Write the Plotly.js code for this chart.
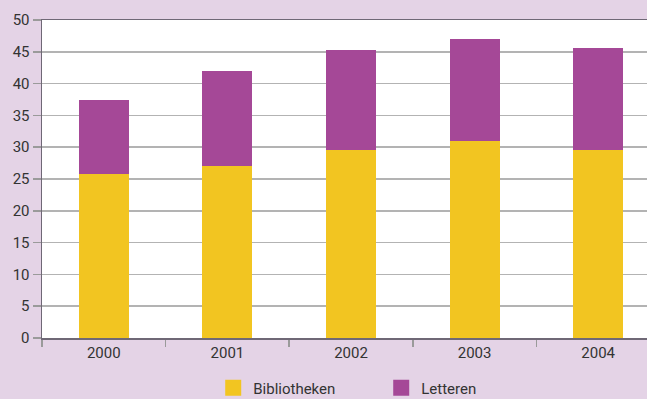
<!DOCTYPE html>
<html>
<head>
<meta charset="utf-8">
<script src="https://cdn.plot.ly/plotly-3.0.1.min.js"></script>
<style>html,body{margin:0;padding:0;background:#e4d3e6;}#chart{width:647px;height:399px;}</style>
</head>
<body>
<div id="chart"></div>
<script>
const years = ['2000', '2001', '2002', '2003', '2004'];
const bibliotheken = [25.8, 27.0, 29.6, 31.0, 29.5];
const letteren = [11.7, 15.0, 15.7, 16.0, 16.1];
const yTicks = [0, 5, 10, 15, 20, 25, 30, 35, 40, 45, 50];

const yellow = '#f2c521';
const purple = '#a54897';

const traces = [
  {type: 'bar', name: 'Bibliotheken', x: years, y: bibliotheken, marker: {color: yellow}, width: 0.405, showlegend: false, hoverinfo: 'skip'},
  {type: 'bar', name: 'Letteren', x: years, y: letteren, marker: {color: purple}, width: 0.405, showlegend: false, hoverinfo: 'skip'},
  {type: 'scatter', mode: 'markers', name: 'Bibliotheken', x: [null], y: [null], marker: {symbol: 'square', size: 16, color: yellow}, showlegend: true},
  {type: 'scatter', mode: 'markers', name: 'Letteren', x: [null], y: [null], marker: {symbol: 'square', size: 16, color: purple}, showlegend: true}
];

const layout = {
  width: 647, height: 399,
  margin: {l: 42, r: 0, t: 20, b: 61, autoexpand: false},
  paper_bgcolor: '#e4d3e6',
  plot_bgcolor: '#ffffff',
  barmode: 'stack',
  font: {family: 'Roboto, sans-serif', size: 15, color: '#333333'},
  xaxis: {
    type: 'category', categoryorder: 'array', categoryarray: years,
    range: [-0.5, 4.395],
    showline: true, linecolor: '#6f6876', linewidth: 1.5, mirror: true,
    ticks: 'outside', tickson: 'boundaries', ticklen: 7, tickcolor: '#9a9a9a', tickwidth: 1.5,
    showgrid: false, zeroline: false,
    tickfont: {size: 15, color: '#333333'}
  },
  yaxis: {
    range: [0, 50], tickvals: yTicks, ticktext: yTicks.map(String),
    showline: true, linecolor: '#6f6876', linewidth: 1.5,
    ticks: 'outside', ticklen: 8, tickcolor: '#9a9a9a', tickwidth: 1.5,
    showgrid: true, gridcolor: '#b3b3b3', gridwidth: 1.5,
    zeroline: false,
    tickfont: {size: 15, color: '#333333'}
  },
  showlegend: true,
  legend: {
    orientation: 'h', x: 0.283, xanchor: 'left', y: -0.157, yanchor: 'middle',
    traceorder: 'normal',
    bgcolor: 'rgba(0,0,0,0)', borderwidth: 0,
    font: {size: 15, color: '#333333'},
    entrywidth: 123, entrywidthmode: 'pixels', itemclick: false
  }
};

Plotly.newPlot('chart', traces, layout, {displayModeBar: false, staticPlot: true});
</script>
</body>
</html>
